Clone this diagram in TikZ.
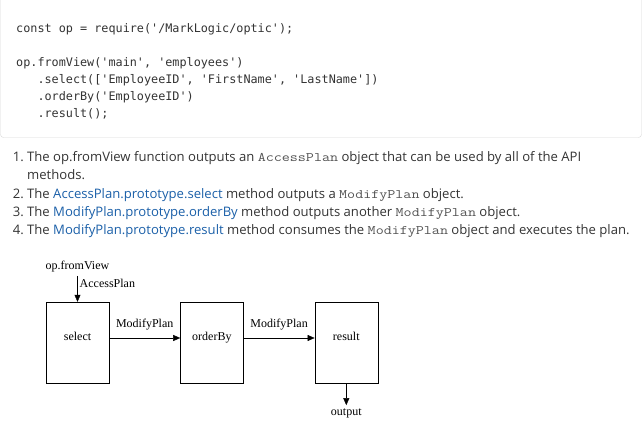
\documentclass[tikz,border=0pt]{standalone}
\usepackage{fontspec}
\setmainfont{Liberation Serif}
\setsansfont{Open Sans}
\setmonofont{DejaVu Sans Mono}
\newfontfamily\inlfont[FakeStretch=1.2]{Latin Modern Mono}
\usetikzlibrary{positioning, arrows.meta}
\definecolor{txt}{HTML}{333333}
\definecolor{link}{HTML}{1A5FA8}
\definecolor{rim}{HTML}{D6D6D6}
\newcommand{\inl}[1]{{\inlfont\fontsize{13}{14}\selectfont\color{txt!85}#1}}
\newcommand{\lnk}[1]{{\color{link}#1}}

\begin{document}
\begin{tikzpicture}[x=1pt, y=-1pt,
    codeline/.style={anchor=base west, inner sep=0pt, text=txt, font=\ttfamily\fontsize{11.8}{14}\selectfont},
    item/.style={anchor=base west, inner sep=0pt, text=txt, font=\sffamily\fontsize{13.1}{14}\selectfont},
    itemnum/.style={item, anchor=base east},
    plan/.style={draw, minimum width=63pt, minimum height=81pt, inner sep=0pt, text depth=12pt},
    flow/.style={-{Triangle[length=7pt,width=6pt]}},
    font=\fontsize{12}{14}\selectfont]
  \useasboundingbox (0,0) rectangle (643,433);
  % code listing
  \draw[rim, rounded corners=3pt] (0.5,-5) rectangle (641.5,137.5);
  \node[codeline] (c1) at (16,33) {const op = require('/MarkLogic/optic');};
  \node[codeline] (c2) at (16,67) {op.fromView('main', 'employees')};
  \node[codeline] (c3) at (16,84) {\ \ \ .select(['EmployeeID', 'FirstName', 'LastName'])};
  \node[codeline] (c4) at (16,101) {\ \ \ .orderBy('EmployeeID')};
  \node[codeline] (c5) at (16,118) {\ \ \ .result();};
  % numbered list
  \node[itemnum] (n1) at (24,162) {1.};
  \node[item] (t1) at (27,162) {The op.fromView function outputs an \inl{AccessPlan} object that can be used by all of the API};
  \node[item] (t1b) at (27,179) {methods.};
  \node[itemnum] (n2) at (24,198) {2.};
  \node[item] (t2) at (27,198) {The \lnk{AccessPlan.prototype.select} method outputs a \inl{ModifyPlan} object.};
  \node[itemnum] (n3) at (24,216) {3.};
  \node[item] (t3) at (27,216) {The \lnk{ModifyPlan.prototype.orderBy} method outputs another \inl{ModifyPlan} object.};
  \node[itemnum] (n4) at (24,234) {4.};
  \node[item] (t4) at (27,234) {The \lnk{ModifyPlan.prototype.result} method consumes the \inl{ModifyPlan} object and executes the plan.};
  % plan diagram
  \node[plan] (sel) at (77.5,342.5) {select};
  \node[plan, right=71pt of sel] (ord) {orderBy};
  \node[plan, right=71pt of ord] (res) {result};
  \node[above=26pt of sel] (fv) {op.fromView};
  \node[below=22pt of res] (out) {output};
  \draw[flow] (fv) -- node[right, pos=0.3, inner sep=2pt] {AccessPlan} (sel);
  \draw[flow] ([yshift=4.5pt]sel.east) -- node[above=4pt] {ModifyPlan} ([yshift=4.5pt]ord.west);
  \draw[flow] ([yshift=4.5pt]ord.east) -- node[above=4pt] {ModifyPlan} ([yshift=4.5pt]res.west);
  \draw[flow] (res) -- (out);
\end{tikzpicture}
\end{document}
